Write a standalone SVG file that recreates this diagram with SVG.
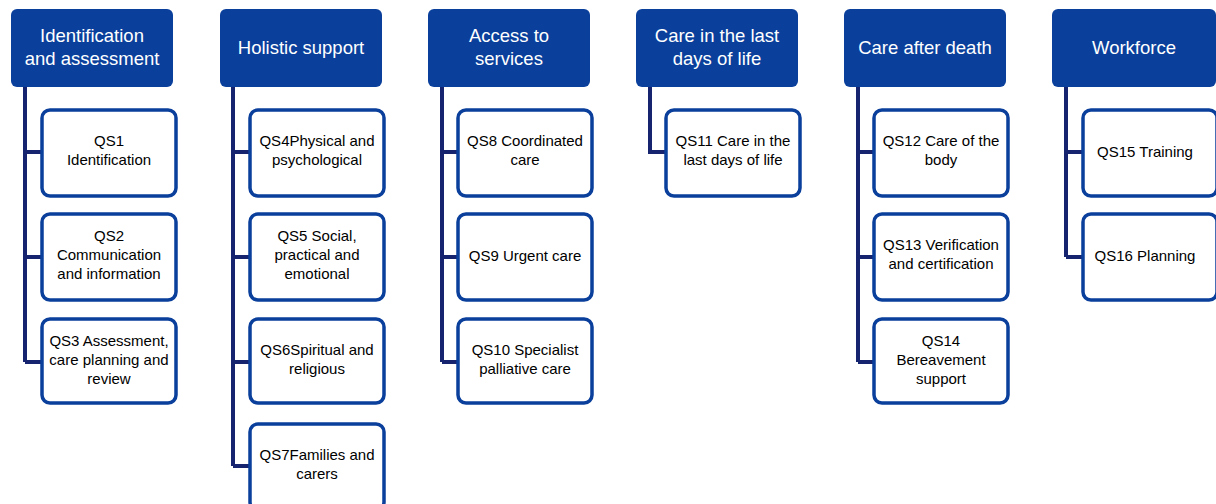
<svg xmlns="http://www.w3.org/2000/svg" width="1216" height="504" viewBox="0 0 1216 504">
<style>
.hdr{fill:#0a3f9c;}
.box{fill:#ffffff;stroke:#0a3f9c;stroke-width:3.5;}
.ht{font-family:"Liberation Sans",Arial,sans-serif;font-size:18.5px;fill:#ffffff;text-anchor:middle;}
.bt{font-family:"Liberation Sans",Arial,sans-serif;font-size:15px;fill:#000000;text-anchor:middle;}
.con{fill:none;stroke:#16236f;stroke-width:4;}
</style>
<rect width="1216" height="504" fill="#ffffff"/>
<g id="connectors">
<path class="con" d="M25,87 V362 M25,152 H41 M25,257 H41 M25,362 H41"/>
<path class="con" d="M233,87 V466 M233,152 H249 M233,257 H249 M233,362 H249 M233,466 H249"/>
<path class="con" d="M442,87 V362 M442,152 H458 M442,257 H458 M442,362 H458"/>
<path class="con" d="M650,87 V152 H666"/>
<path class="con" d="M858,87 V362 M858,152 H874 M858,257 H874 M858,362 H874"/>
<path class="con" d="M1066,87 V257 M1066,152 H1082 M1066,257 H1082"/>
</g>
<g id="h1"><rect class="hdr" x="11" y="9" width="162" height="78" rx="6"/><text class="ht" x="92" y="42">Identification</text><text class="ht" x="92" y="65">and assessment</text></g>
<g id="h2"><rect class="hdr" x="220" y="9" width="162" height="78" rx="6"/><text class="ht" x="301" y="54">Holistic support</text></g>
<g id="h3"><rect class="hdr" x="428" y="9" width="162" height="78" rx="6"/><text class="ht" x="509" y="42">Access to</text><text class="ht" x="509" y="65">services</text></g>
<g id="h4"><rect class="hdr" x="636" y="9" width="162" height="78" rx="6"/><text class="ht" x="717" y="42">Care in the last</text><text class="ht" x="717" y="65">days of life</text></g>
<g id="h5"><rect class="hdr" x="844" y="9" width="162" height="78" rx="6"/><text class="ht" x="925" y="54">Care after death</text></g>
<g id="h6"><rect class="hdr" x="1052" y="9" width="164" height="78" rx="6"/><text class="ht" x="1134" y="54">Workforce</text></g>

<g id="qs1"><rect class="box" x="42" y="110" width="134" height="86" rx="8"/><text class="bt" x="109" y="146">QS1</text><text class="bt" x="109" y="165">Identification</text></g>
<g id="qs2"><rect class="box" x="42" y="214" width="134" height="86" rx="8"/><text class="bt" x="109" y="241">QS2</text><text class="bt" x="109" y="260">Communication</text><text class="bt" x="109" y="279">and information</text></g>
<g id="qs3"><rect class="box" x="42" y="319" width="134" height="84" rx="8"/><text class="bt" x="109" y="346">QS3 Assessment,</text><text class="bt" x="109" y="365">care planning and</text><text class="bt" x="109" y="384">review</text></g>

<g id="qs4"><rect class="box" x="250" y="110" width="134" height="86" rx="8"/><text class="bt" x="317" y="146">QS4Physical and</text><text class="bt" x="317" y="165">psychological</text></g>
<g id="qs5"><rect class="box" x="250" y="214" width="134" height="86" rx="8"/><text class="bt" x="317" y="241">QS5 Social,</text><text class="bt" x="317" y="260">practical and</text><text class="bt" x="317" y="279">emotional</text></g>
<g id="qs6"><rect class="box" x="250" y="319" width="134" height="84" rx="8"/><text class="bt" x="317" y="355">QS6Spiritual and</text><text class="bt" x="317" y="374">religious</text></g>
<g id="qs7"><rect class="box" x="250" y="424" width="134" height="86" rx="8"/><text class="bt" x="317" y="460">QS7Families and</text><text class="bt" x="317" y="479">carers</text></g>

<g id="qs8"><rect class="box" x="458" y="110" width="134" height="86" rx="8"/><text class="bt" x="525" y="146">QS8 Coordinated</text><text class="bt" x="525" y="165">care</text></g>
<g id="qs9"><rect class="box" x="458" y="214" width="134" height="86" rx="8"/><text class="bt" x="525" y="261">QS9 Urgent care</text></g>
<g id="qs10"><rect class="box" x="458" y="319" width="134" height="84" rx="8"/><text class="bt" x="525" y="355">QS10 Specialist</text><text class="bt" x="525" y="374">palliative care</text></g>

<g id="qs11"><rect class="box" x="666" y="110" width="134" height="86" rx="8"/><text class="bt" x="733" y="146">QS11 Care in the</text><text class="bt" x="733" y="165">last days of life</text></g>

<g id="qs12"><rect class="box" x="874" y="110" width="134" height="86" rx="8"/><text class="bt" x="941" y="146">QS12 Care of the</text><text class="bt" x="941" y="165">body</text></g>
<g id="qs13"><rect class="box" x="874" y="214" width="134" height="86" rx="8"/><text class="bt" x="941" y="250">QS13 Verification</text><text class="bt" x="941" y="269">and certification</text></g>
<g id="qs14"><rect class="box" x="874" y="319" width="134" height="84" rx="8"/><text class="bt" x="941" y="346">QS14</text><text class="bt" x="941" y="365">Bereavement</text><text class="bt" x="941" y="384">support</text></g>

<g id="qs15"><rect class="box" x="1083" y="110" width="134" height="86" rx="8"/><text class="bt" x="1145" y="157">QS15 Training</text></g>
<g id="qs16"><rect class="box" x="1083" y="214" width="134" height="86" rx="8"/><text class="bt" x="1145" y="261">QS16 Planning</text></g>
</svg>
